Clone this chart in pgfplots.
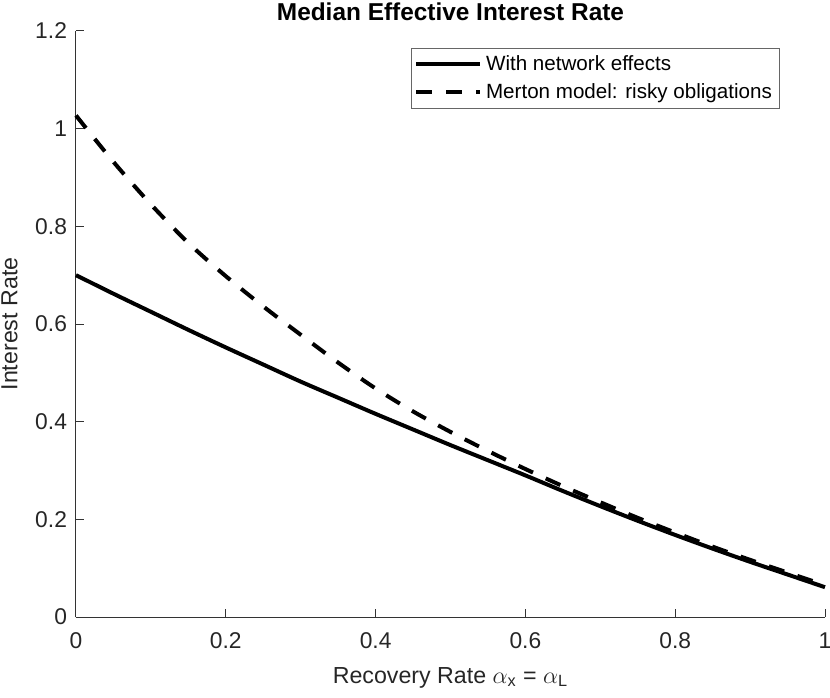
\documentclass[border=0pt]{standalone}
\usepackage{pgfplots}
\pgfplotsset{compat=1.18}
\usepackage{amsmath}
\usepackage{fontspec}
\setmainfont{Liberation Sans}
\setsansfont{Liberation Sans}

% solid: with network effects
\pgfplotstableread{
x y
0.00 0.700
0.05 0.662
0.10 0.625
0.15 0.588
0.20 0.552
0.25 0.517
0.30 0.482
0.35 0.449
0.40 0.416
0.45 0.384
0.50 0.352
0.55 0.321
0.60 0.290
0.65 0.258
0.70 0.227
0.75 0.197
0.80 0.168
0.85 0.140
0.90 0.113
0.95 0.087
1.00 0.061
}\network

% dashed: Merton model
\pgfplotstableread{
x y
0.00 1.027
0.05 0.932
0.10 0.845
0.15 0.766
0.20 0.698
0.25 0.636
0.30 0.578
0.35 0.521
0.40 0.468
0.45 0.421
0.50 0.379
0.55 0.340
0.60 0.303
0.65 0.268
0.70 0.235
0.75 0.203
0.80 0.173
0.85 0.144
0.90 0.117
0.95 0.091
1.00 0.065
}\merton

\begin{document}
\begin{tikzpicture}
\begin{axis}[
    name=ax,
    scale only axis,
    width=374.5pt, height=293pt,
    xmin=0, xmax=1, ymin=0, ymax=1.2,
    axis lines=left,
    axis line style={black!80, line width=0.5pt, -},
    xtick={0,0.2,...,1}, ytick={0,0.2,...,1.2},
    tick style={black!80, line width=0.5pt},
    major tick length=4pt,
    tick align=inside,
    ticklabel style={font=\fontsize{11.4}{13}\selectfont, text=black!85},
    /pgf/number format/assume math mode=true,
    xticklabel style={yshift=-4.5pt},
    yticklabel style={xshift=-1pt},
    every axis title shift=0pt,
    title={\textbf{Median Effective Interest Rate}},
    title style={font=\fontsize{12.2}{14}\selectfont, at={(0.5,1)}, anchor=base, yshift=5pt},
    xlabel={Recovery Rate $\alpha_{\text{x}}$ = $\alpha_{\text{L}}$},
    ylabel={Interest Rate},
    label style={font=\fontsize{11.6}{13}\selectfont, text=black!85},
    xlabel style={at={(0.5,0)}, anchor=base, yshift=-33pt},
    ylabel style={yshift=2pt},
    legend style={at={(0.939,0.971)}, anchor=north east,
        draw=black!60, line width=0.4pt,
        font=\fontsize{10.3}{12}\selectfont,
        inner sep=1.5pt, row sep=1pt,
        legend cell align=left},
    legend image code/.code={\draw[#1] (0pt,0pt) -- (32pt,0pt);},
    clip=false,
]
\addplot[black, line width=2pt, smooth, tension=0.5] table[x=x, y=y] {\network};
\addlegendentry{With network effects}
\addplot[black, line width=2pt, smooth, tension=0.5, dash pattern=on 8pt off 7pt] table[x=x, y=y] {\merton};
\addlegendentry{Merton model: risky obligations}
\end{axis}
\pgfresetboundingbox
\path[use as bounding box] ([xshift=-38pt, yshift=-40pt]ax.south west) rectangle ([xshift=2.5pt, yshift=15.5pt]ax.north east);
\end{tikzpicture}
\end{document}
